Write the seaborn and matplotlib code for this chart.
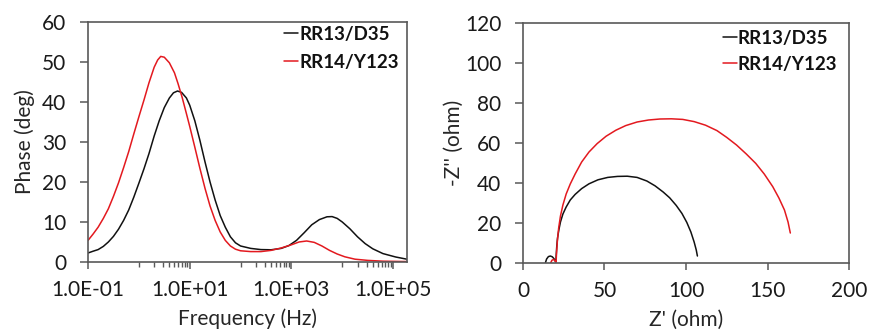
import numpy as np
import pandas as pd
import matplotlib
matplotlib.use("Agg")
import matplotlib.pyplot as plt
import seaborn as sns
from matplotlib.ticker import FixedLocator, FixedFormatter, NullFormatter

# ---------------- data: Bode phase ----------------
freq_d35 = [0.1, 0.126, 0.158, 0.2, 0.251, 0.316, 0.398, 0.501, 0.631, 0.794,
            1.0, 1.26, 1.58, 2.0, 2.51, 3.16, 3.98, 4.79, 5.75, 6.92,
            8.61, 10, 12.6, 15.8, 20.0, 25.1, 31.6, 39.8, 50.1, 63.1,
            79.4, 100, 158, 251, 398, 631, 891, 1259, 1778, 2512,
            3548, 5012, 6310, 7943, 10000, 14130, 19950, 28180, 39810, 63100,
            112200, 186200]
phase_d35 = [2.25, 2.7, 3.1, 3.9, 5.0, 6.4, 8.2, 10.4, 13.0, 16.2,
             19.7, 23.3, 27.1, 31.5, 35.3, 38.6, 41.0, 42.3, 42.75, 42.4,
             41.0, 39.2, 35.3, 30.5, 25.0, 20.0, 15.5, 11.6, 8.7, 6.3,
             4.8, 4.0, 3.4, 3.1, 3.05, 3.4, 4.1, 5.4, 7.3, 9.3,
             10.6, 11.3, 11.35, 10.9, 10.0, 8.3, 6.3, 4.6, 3.3, 2.1,
             1.25, 0.7]

freq_y123 = [0.1, 0.126, 0.158, 0.2, 0.251, 0.316, 0.398, 0.501, 0.631, 0.794,
             1.0, 1.26, 1.58, 2.0, 2.34, 2.69, 3.16, 3.98, 5.01, 5.89,
             7.08, 8.61, 10, 12.6, 15.8, 20.0, 25.1, 31.6, 39.8, 50.1,
             63.1, 79.4, 100, 158, 251, 398, 631, 1000, 1413, 1995,
             2818, 3981, 5623, 7943, 11220, 17780, 31620, 63100, 186200]
phase_y123 = [5.4, 7.0, 8.7, 10.9, 13.3, 16.4, 19.8, 23.6, 27.6, 32.0,
              36.3, 40.5, 44.8, 48.7, 50.5, 51.4, 51.2, 49.8, 47.3, 44.6,
              41.2, 37.1, 33.9, 28.7, 23.5, 18.4, 14.0, 10.4, 7.5, 5.4,
              4.0, 3.2, 2.8, 2.6, 2.6, 2.9, 3.5, 4.3, 5.0, 5.25,
              4.9, 4.0, 2.9, 2.0, 1.3, 0.7, 0.4, 0.2, 0.1]

# ---------------- data: Nyquist ----------------
zre_d35 = [13.8, 14.5, 15.6, 16.8, 18.0, 19.0, 19.7, 20.2, 20.4, 20.7,
           21.2, 22.0, 23.0, 24.5, 26.5, 29.0, 32.0, 36.0, 40.5, 46.0,
           52.0, 58.0, 64.0, 70.0, 76.0, 81.0, 86.0, 90.0, 94.0, 97.5,
           100.5, 103.0, 105.0, 106.3, 107.0]
zim_d35 = [0.2, 2.0, 3.2, 3.5, 3.1, 2.2, 1.0, 0.5, 4.0, 8.0,
           12.5, 16.5, 20.5, 24.5, 28.0, 31.5, 34.3, 37.2, 39.6, 41.6,
           42.8, 43.3, 43.4, 42.8, 41.0, 38.6, 35.5, 32.6, 28.8, 24.8,
           20.3, 15.5, 10.5, 6.5, 3.5]

zre_y123 = [17.0, 17.8, 18.8, 19.8, 20.3, 20.6, 21.1, 21.9, 23.0, 24.5,
            26.5, 29.0, 32.0, 36.0, 40.5, 45.5, 51.0, 57.0, 63.0, 70.0,
            77.0, 84.0, 91.0, 98.0, 105.0, 112.0, 119.0, 125.0, 131.0, 137.0,
            142.8, 148.0, 153.2, 157.0, 160.4, 162.6, 164.0]
zim_y123 = [0.1, 1.4, 1.8, 1.0, 0.5, 5.0, 11.0, 17.5, 23.5, 29.0,
            34.5, 39.5, 44.5, 50.5, 55.5, 59.7, 63.4, 66.4, 68.7, 70.5,
            71.5, 72.0, 72.1, 71.8, 70.7, 68.9, 66.2, 62.8, 59.0, 54.5,
            49.8, 44.5, 38.2, 32.5, 26.5, 20.5, 15.0]

series_names = ["RR13/D35", "RR14/Y123"]
freq_ticks = [0.1, 10, 1e3, 1e5]
freq_tick_labels = ["1.0E-01", "1.0E+01", "1.0E+03", "1.0E+05"]
phase_ticks = [0, 10, 20, 30, 40, 50, 60]
zre_ticks = [0, 50, 100, 150, 200]
zim_ticks = [0, 20, 40, 60, 80, 100, 120]

colors = {"RR13/D35": "#111111", "RR14/Y123": "#e3191f"}

bode = pd.concat([
    pd.DataFrame({"f": freq_d35, "phase": phase_d35, "sample": series_names[0]}),
    pd.DataFrame({"f": freq_y123, "phase": phase_y123, "sample": series_names[1]}),
], ignore_index=True)
nyq = pd.concat([
    pd.DataFrame({"zre": zre_d35, "zim": zim_d35, "sample": series_names[0]}),
    pd.DataFrame({"zre": zre_y123, "zim": zim_y123, "sample": series_names[1]}),
], ignore_index=True)

sns.set_style("ticks")
plt.rcParams["font.family"] = ["Lato", "DejaVu Sans"]

fig = plt.figure(figsize=(8.69, 3.31), dpi=100)
ax1 = fig.add_axes([0.1013, 0.2085, 0.3671, 0.725])
ax2 = fig.add_axes([0.6018, 0.2054, 0.3752, 0.7251])

sns.lineplot(data=bode, x="f", y="phase", hue="sample", palette=colors,
             sort=False, estimator=None, lw=1.1, ax=ax1)
sns.lineplot(data=nyq, x="zre", y="zim", hue="sample", palette=colors,
             sort=False, estimator=None, lw=1.1, ax=ax2)

spine_col = "#595959"
tick_fs = 15
lab_fs = 15

ax1.set_xscale("log")
ax1.set_xlim(0.1, 1.88e5)
ax1.set_ylim(0, 60)
ax1.xaxis.set_major_locator(FixedLocator(freq_ticks))
ax1.xaxis.set_major_formatter(FixedFormatter(freq_tick_labels))
minor = [m * d for d in (1, 100, 1e4) for m in range(1, 10)]
ax1.xaxis.set_minor_locator(FixedLocator(minor))
ax1.xaxis.set_minor_formatter(NullFormatter())
ax1.set_yticks(phase_ticks)
ax1.set_xlabel("Frequency (Hz)", fontsize=lab_fs, color="#262626", labelpad=6)
ax1.set_ylabel("Phase (deg)", fontsize=lab_fs, color="#262626", labelpad=5)

ax2.set_xlim(0, 200)
ax2.set_ylim(0, 120)
ax2.set_xticks(zre_ticks)
ax2.set_yticks(zim_ticks)
ax2.set_xlabel("Z' (ohm)", fontsize=lab_fs, color="#262626", labelpad=6)
ax2.set_ylabel("-Z'' (ohm)", fontsize=lab_fs, color="#262626", labelpad=1)

for ax in (ax1, ax2):
    for s in ax.spines.values():
        s.set_visible(True)
        s.set_color(spine_col)
        s.set_linewidth(1.2)
    ax.tick_params(axis="both", which="major", direction="out",
                   width=1.1, color=spine_col, labelsize=tick_fs, labelcolor="#1a1a1a")
    ax.tick_params(axis="x", which="major", pad=8, length=5)
    ax.tick_params(axis="y", which="major", pad=10, length=5.5)
    ax.tick_params(axis="x", which="minor", direction="out", length=3.5,
                   width=1.0, color=spine_col)

leg_cfg = [(ax1, (0.985, 1.0), 0.6), (ax2, (0.975, 0.988), 0.5)]
for ax, anchor, spacing in leg_cfg:
    leg = ax.legend(loc="upper right", bbox_to_anchor=anchor, frameon=False,
                    handlelength=0.75, handletextpad=0.05, labelspacing=spacing,
                    borderaxespad=0.0, borderpad=0.2,
                    prop={"weight": "bold", "size": 13.5})
    for t in leg.get_texts():
        t.set_color("#111111")
    for l in leg.get_lines():
        l.set_linewidth(1.1)

fig.savefig("out.png", dpi=100)
